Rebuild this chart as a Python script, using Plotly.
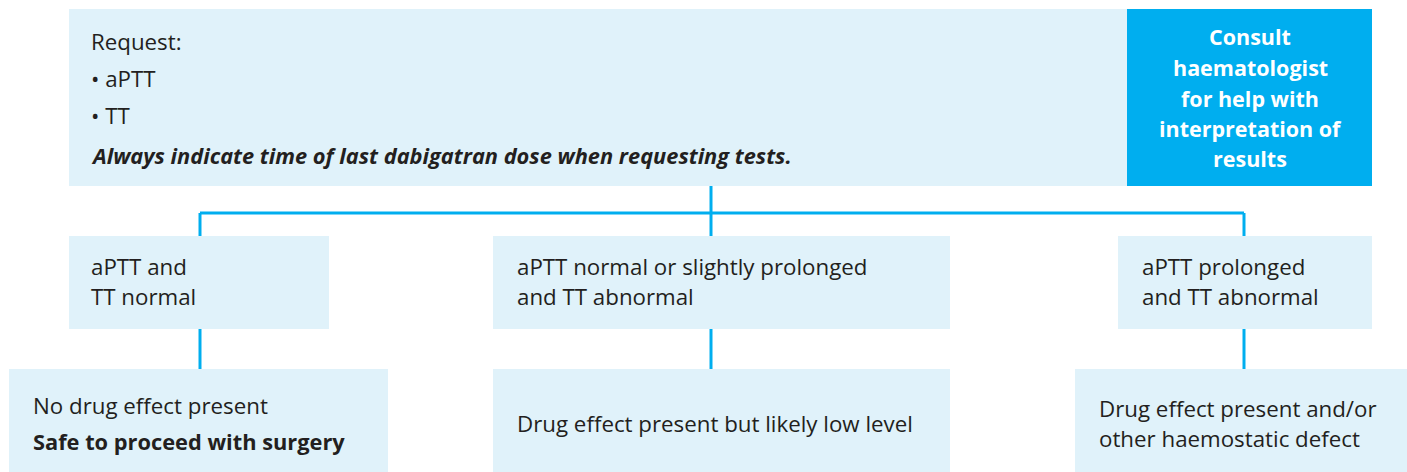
import plotly.graph_objects as go

# ---- content (data) ----
request_lines = ["Request:", "• aPTT", "• TT"]
request_note = "Always indicate time of last dabigatran dose when requesting tests."
consult_lines = ["Consult", "haematologist", "for help with", "interpretation of", "results"]
result_labels = [["aPTT and", "TT normal"],
                 ["aPTT normal or slightly prolonged", "and TT abnormal"],
                 ["aPTT prolonged", "and TT abnormal"]]
outcome_labels = [["No drug effect present", "<b>Safe to proceed with surgery</b>"],
                  ["Drug effect present but likely low level"],
                  ["Drug effect present and/or", "other haemostatic defect"]]

# ---- layout geometry ----
W, H = 1407, 472
LIGHT = "#E0F2FA"
BLUE = "#00AEEF"
TXT = "#231F20"
FONT = "Open Sans"
FS = 22.3
FS_BOLD = 21.8
DY = -2

top_box = (69, 9, 1127, 186)
consult_box = (1127, 9, 1372, 186)
row2_boxes = [(69, 236, 329, 329), (493, 236, 950, 329), (1118, 236, 1372, 329)]
row3_boxes = [(9, 369, 388, 480), (493, 369, 950, 480), (1075, 369, 1420, 480)]
branch_x = [200, 711, 1244]
bus_y = 213

fig = go.Figure()
shapes = []
def rect(b, color):
    shapes.append(dict(type="rect", x0=b[0], y0=b[1], x1=b[2], y1=b[3],
                       fillcolor=color, line=dict(width=0), layer="below"))
def line(x0, y0, x1, y1):
    shapes.append(dict(type="line", x0=x0, y0=y0, x1=x1, y1=y1,
                       line=dict(color=BLUE, width=3), layer="below"))

rect(top_box, LIGHT)
rect(consult_box, BLUE)
for b in row2_boxes + row3_boxes:
    rect(b, LIGHT)

line(711, top_box[3], 711, bus_y)
line(branch_x[0], bus_y, branch_x[2], bus_y)
for bx in branch_x:
    line(bx, bus_y, bx, row2_boxes[0][1])
    line(bx, row2_boxes[0][3], bx, row3_boxes[0][1])

ann = []
def txt(x, y, s, anchor="left", color=TXT, size=FS):
    ann.append(dict(x=x, y=y + DY, text=s, showarrow=False, xanchor=anchor, yanchor="middle",
                    font=dict(family=FONT, size=size, color=color), xref="x", yref="y"))

for s, y in zip(request_lines, [43, 80, 117]):
    txt(89, y, s)
txt(89, 157, "<b><i>" + request_note + "</i></b>", size=FS_BOLD)
for s, y in zip(consult_lines, [38, 69, 100, 130, 160]):
    txt(1250, y, "<b>" + s + "</b>", anchor="center", color="white", size=21.5)

row2_x = [89, 515, 1140]
for lines_, x in zip(result_labels, row2_x):
    for s, y in zip(lines_, [268, 298]):
        txt(x, y, s)

row3_x = [31, 515, 1097]
row3_y = [[407, 443], [425], [410, 440]]
for lines_, x, ys in zip(outcome_labels, row3_x, row3_y):
    for s, y in zip(lines_, ys):
        txt(x, y, s, size=FS_BOLD if s.startswith("<b>") else FS)

fig.update_layout(width=W, height=H, margin=dict(l=0, r=0, t=0, b=0),
                  paper_bgcolor="white", plot_bgcolor="white",
                  shapes=shapes, annotations=ann, showlegend=False,
                  xaxis=dict(range=[0, W], visible=False, fixedrange=True),
                  yaxis=dict(range=[H, 0], visible=False, fixedrange=True))
fig.write_html("out.html", config={"displayModeBar": False},
               post_script="document.body.style.margin='0';document.body.style.overflow='hidden';")
